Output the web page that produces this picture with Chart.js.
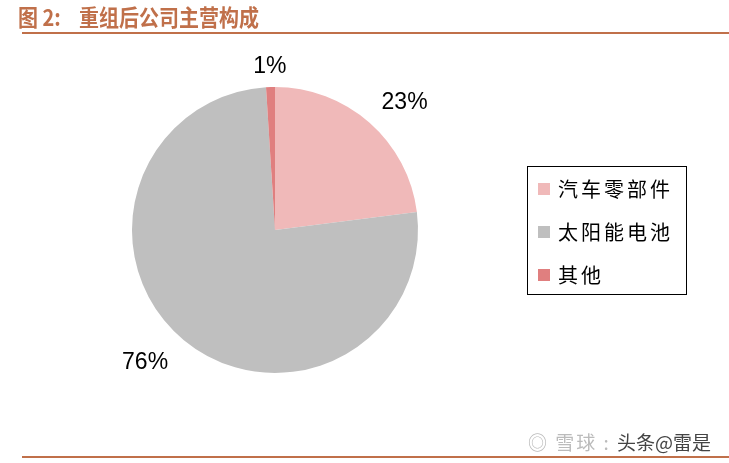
<!DOCTYPE html>
<html>
<head>
<meta charset="utf-8">
<script src="https://cdn.jsdelivr.net/npm/chart.js@4"></script>
<style>
  body { margin: 0; background: #fff; }
  #wrap { position: relative; width: 729px; height: 463px; overflow: hidden; }
  #title { position: absolute; left: 18px; top: 0px; font: bold 20px "Noto Sans CJK SC", sans-serif; color: #C0704A; transform: scaleY(1.12); transform-origin: top left; }
  .rule { position: absolute; left: 22px; right: 0; height: 2px; background: #C0704A; }
  #legend { position: absolute; left: 527px; top: 166px; width: 160px; height: 129px; border: 1.5px solid #000; box-sizing: border-box; }
  .item { height: 43px; display: flex; align-items: center; font: 20px "Noto Sans CJK SC", serif; color: #000; letter-spacing: 3px; }
  .sw { width: 12px; height: 12px; margin-left: 10px; margin-right: 8px; }
  #mark { position: absolute; left: 528px; top: 428px; font: 19px "Noto Sans CJK SC", sans-serif; color: #bbb; letter-spacing: 2px; }
  #mark b { font-weight: normal; color: #444; letter-spacing: 0; }
  canvas { position: absolute; left: 0; top: 0; }
</style>
</head>
<body>
<div id="wrap">
  <canvas id="pieChart" width="729" height="463"></canvas>
  <div id="title">图 2:&nbsp;&nbsp;&nbsp;&nbsp;重组后公司主营构成</div>
  <div class="rule" style="top:32px"></div>
  <div id="legend"></div>
  <div id="mark">◎ 雪球 : <b>头条@雷是</b></div>
  <div class="rule" style="top:456px"></div>
</div>
<script>
const categories = ['汽车零部件', '太阳能电池', '其他'];
const shares = [23, 76, 1];
const colors = ['#F0B9B9', '#BFBFBF', '#E07F7F'];

// legend built from the same arrays
const legendBox = document.getElementById('legend');
categories.forEach((name, i) => {
    const row = document.createElement('div');
    row.className = 'item';
    row.innerHTML = '<span class="sw" style="background:' + colors[i] + '"></span>' + name;
    legendBox.appendChild(row);
});

// percent labels outside each slice: [extra radius, angle nudge in degrees]
const labelOffsets = [[39, 4], [43, 4.7], [20, 0]];
const outsideLabels = {
    id: 'outsideLabels',
    afterDatasetsDraw(chart) {
        const ctx = chart.ctx;
        const meta = chart.getDatasetMeta(0);
        ctx.save();
        ctx.font = '23px "Liberation Sans", Arial, sans-serif';
        ctx.fillStyle = '#000';
        ctx.textAlign = 'center';
        ctx.textBaseline = 'middle';
        meta.data.forEach((arc, i) => {
            const mid = (arc.startAngle + arc.endAngle) / 2 + labelOffsets[i][1] * Math.PI / 180;
            const r = arc.outerRadius + labelOffsets[i][0];
            ctx.fillText(shares[i] + '%', arc.x + Math.cos(mid) * r, arc.y + Math.sin(mid) * r);
        });
        ctx.restore();
    }
};

const ctx = document.getElementById('pieChart').getContext('2d');
const pieChart = new Chart(ctx, {
    type: 'pie',
    data: {
        labels: categories,
        datasets: [{
            data: shares,
            backgroundColor: colors,
            borderWidth: 0
        }]
    },
    options: {
        responsive: false,
        animation: false,
        layout: {
            padding: { left: 132, right: 311, top: 87, bottom: 90 }
        },
        plugins: {
            legend: { display: false },
            tooltip: { enabled: false }
        }
    },
    plugins: [outsideLabels]
});
</script>
</body>
</html>
